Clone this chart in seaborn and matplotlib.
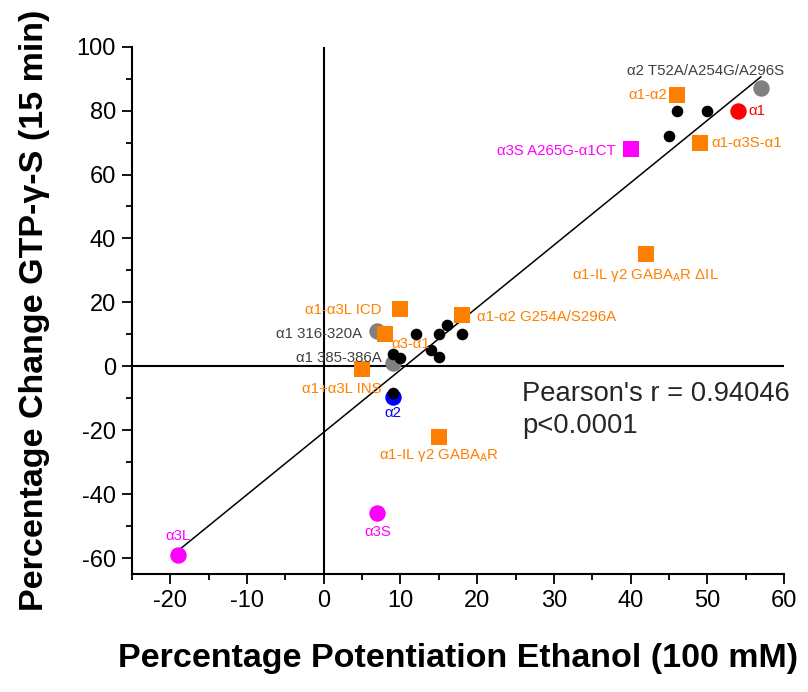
import numpy as np
import pandas as pd
import matplotlib
matplotlib.use('Agg')
import matplotlib.pyplot as plt
from matplotlib.ticker import MultipleLocator
import seaborn as sns

# --- data ---
black_x = [46, 50, 45, 12, 15, 16, 18, 14, 15, 9, 10, 9]
black_y = [80, 80, 72, 10, 10, 13, 10, 5, 3, 4, 2.5, -8.5]

grey_x = [57, 7, 9]
grey_y = [87, 11, 1]

orange_x = [46, 49, 42, 10, 18, 8, 5, 15]
orange_y = [85, 70, 35, 18, 16, 10, -1, -22]

magenta_sq_x = [40]
magenta_sq_y = [68]

magenta_x = [7, -19]
magenta_y = [-46, -59]

red_x, red_y = [54], [80]
blue_x, blue_y = [9], [-9.5]

pearson_r = 0.94046

labels = ['α2 T52A/A254G/A296S', 'α1-α2', 'α1', 'α1-α3S-α1', 'α3S A265G-α1CT',
          'α1-IL γ2 GABA$_\\mathregular{A}$R ΔIL', 'α1-α3L ICD', 'α1-α2 G254A/S296A',
          'α1 316-320A', 'α3-α1', 'α1 385-386A', 'α1+α3L INS', 'α2',
          'α1-IL γ2 GABA$_\\mathregular{A}$R', 'α3S', 'α3L']
label_x = [49.8, 44.8, 55.3, 50.5, 38, 42, 7.5, 20, 5, 8.8, 7.5, 7.5, 9, 15, 7, -19]
label_y = [92.5, 85, 80, 70, 67.5, 28.5, 17.5, 15.5, 10, 7, 2.5, -7, -14.5, -28, -52, -53]
label_ha = ['center', 'right', 'left', 'left', 'right', 'center', 'right', 'left',
            'right', 'left', 'right', 'right', 'center', 'center', 'center', 'center']
label_c = ['#404040', '#FF8000', '#FF0000', '#FF8000', '#FF00FF', '#FF8000', '#FF8000',
           '#FF8000', '#404040', '#FF8000', '#404040', '#FF8000', '#0000FF', '#FF8000',
           '#FF00FF', '#FF00FF']

sns.set_style('ticks')
plt.rcParams['font.family'] = ['Liberation Sans', 'DejaVu Sans']
plt.rcParams['mathtext.default'] = 'regular'
plt.rcParams['axes.unicode_minus'] = False

fig = plt.figure(figsize=(8.08, 6.92), dpi=100)
ax = fig.add_axes([0.1634, 0.1705, 0.8069, 0.762])

ax.axhline(0, color='black', lw=1.5, zorder=1)
ax.axvline(0, color='black', lw=1.5, zorder=1)

all_x = black_x + grey_x + orange_x + magenta_sq_x + magenta_x + red_x + blue_x
all_y = black_y + grey_y + orange_y + magenta_sq_y + magenta_y + red_y + blue_y
sns.regplot(x=all_x, y=all_y, ax=ax, scatter=False, ci=None, truncate=True,
            line_kws={'color': 'black', 'lw': 1.1, 'zorder': 2})

kw = dict(ax=ax, linewidth=0, legend=False, zorder=3)
sns.scatterplot(x=grey_x, y=grey_y, color='#808080', s=140, **kw)
sns.scatterplot(x=red_x, y=red_y, color='#FF0000', s=140, **kw)
sns.scatterplot(x=blue_x, y=blue_y, color='#0000FF', s=140, **kw)
sns.scatterplot(x=magenta_x, y=magenta_y, color='#FF00FF', s=140, **kw)
sns.scatterplot(x=orange_x, y=orange_y, color='#FF8000', marker='s', s=120, **kw)
sns.scatterplot(x=magenta_sq_x, y=magenta_sq_y, color='#FF00FF', marker='s', s=120, **kw)
sns.scatterplot(x=black_x, y=black_y, color='black', s=70, **kw)

for t, lx, ly, ha, c in zip(labels, label_x, label_y, label_ha, label_c):
    ax.text(lx, ly, t, ha=ha, va='center', color=c, fontsize=10.8)

# stats annotation, two lines placed on their baselines
ax.text(25.9, -11, f"Pearson's r = {pearson_r:.5f}", fontsize=19.7,
        ha='left', va='baseline')
ax.text(25.9, -21, "p<0.0001", fontsize=19.7, ha='left', va='baseline')

ax.set_xlim(-25, 60)
ax.set_ylim(-65, 100)
ax.xaxis.set_major_locator(MultipleLocator(10))
ax.xaxis.set_minor_locator(MultipleLocator(5))
ax.yaxis.set_major_locator(MultipleLocator(20))
ax.yaxis.set_minor_locator(MultipleLocator(10))
ax.tick_params(which='major', length=7.5, width=1.3, pad=4, labelsize=17,
               color='black', labelcolor='black')
ax.tick_params(which='minor', length=4.5, width=1.3, color='black')

for side in ['top', 'right']:
    ax.spines[side].set_visible(False)
for side in ['left', 'bottom']:
    ax.spines[side].set_linewidth(1.5)
    ax.spines[side].set_color('black')

ax.set_xlabel('Percentage Potentiation Ethanol (100 mM)', fontsize=24.5, fontweight='bold',
              labelpad=22, color='black')
ax.set_ylabel('Percentage Change GTP-γ-S (15 min)', fontsize=24.5, fontweight='bold',
              labelpad=19, color='black')

fig.savefig('out.png', dpi=100)
